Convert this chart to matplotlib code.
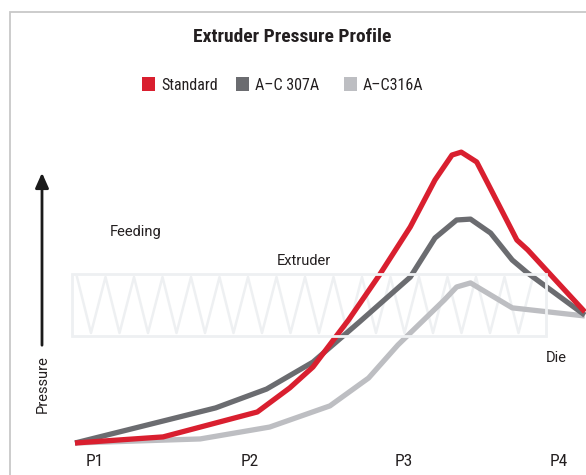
import matplotlib.pyplot as plt
from matplotlib.patches import Rectangle, FancyArrowPatch

# screw position (P1 = 0 ... P4 = 3) and relative pressure (peak ~100)
x_standard = [0, 0.57, 1.18, 1.39, 1.54, 1.77, 1.97, 2.17, 2.33, 2.44, 2.50, 2.60, 2.67, 2.86, 2.93, 3.30]
y_standard = [0, 2.1, 10.7, 19.0, 26.2, 42.4, 57.9, 74.5, 90.7, 99.3, 100.3, 96.9, 89.7, 70.0, 66.6, 45.2]

x_307 = [0, 0.91, 1.24, 1.54, 1.84, 2.17, 2.33, 2.47, 2.56, 2.69, 2.83, 2.93, 3.30]
y_307 = [0, 12.1, 18.6, 27.9, 41.7, 57.2, 70.7, 76.9, 77.2, 72.4, 63.1, 58.6, 44.1]

x_316 = [0, 0.81, 1.26, 1.65, 1.90, 2.09, 2.39, 2.47, 2.56, 2.83, 3.30]
y_316 = [0, 1.4, 5.5, 12.8, 22.4, 33.8, 49.3, 53.8, 55.2, 46.6, 43.8]

series_names = ["Standard", "A–C 307A", "A–C316A"]
series_colors = ["#d91f2f", "#6b6c70", "#bdbec2"]
tick_labels = ["P1", "P2", "P3", "P4"]
zone_labels = ["Feeding", "Extruder", "Die"]

W, H = 586, 475
narrow = ["Roboto Condensed", "DejaVu Sans"]
regular = ["Roboto", "DejaVu Sans"]

fig = plt.figure(figsize=(W / 100, H / 100), dpi=100)
ax = fig.add_axes([0, 0, 1, 1])
ax.axis("off")
# pixel layout: P1 at x=75, one P step = 154.5 px, baseline at y=443, 2.9 px per unit
ax.set_xlim(-75 / 154.5, (W - 75) / 154.5)
ax.set_ylim((443 - H) / 2.9, 443 / 2.9)


def fx(px):
    return px / W


def fy(py):
    return 1 - py / H


# outer frame
fig.patches.append(Rectangle((fx(10), -0.1), 1.2, fy(12) + 0.1, transform=fig.transFigure,
                             fill=False, edgecolor="#c8c8c8", linewidth=1.3))

# extruder screw (zig-zag box)
fig.patches.append(Rectangle((fx(72), fy(336)), fx(546) - fx(72), fy(274) - fy(336),
                             transform=fig.transFigure, fill=False, edgecolor="#eef0f2", linewidth=2))
zx, zy = [], []
for k in range(17):
    zx.append(fx(77 + 28.5 * k))
    zy.append(fy(277))
    if k < 16:
        zx.append(fx(91 + 28.5 * k))
        zy.append(fy(333))
fig.add_artist(plt.Line2D(zx, zy, transform=fig.transFigure, color="#eef0f2", linewidth=1.8, zorder=0))

# curves
xs = [x_standard, x_307, x_316]
ys = [y_standard, y_307, y_316]
for i in [2, 1, 0]:
    ax.plot(xs[i], ys[i], color=series_colors[i], linewidth=3.8,
            solid_joinstyle="round", solid_capstyle="butt", clip_on=False, zorder=3 + (2 - i))

# title
fig.text(fx(292), fy(37), "Extruder Pressure Profile", ha="center", va="center",
         fontsize=14, fontweight="bold", family=narrow, fontstretch="condensed", color="#231f20")

# legend
leg_x = [142, 236, 344]
for i, name in enumerate(series_names):
    fig.patches.append(Rectangle((fx(leg_x[i]), fy(91)), fx(13), 14 / H,
                                 transform=fig.transFigure, color=series_colors[i], linewidth=0))
    fig.text(fx(leg_x[i] + 19), fy(85), name, ha="left", va="center", fontsize=11.5,
             family=narrow, fontstretch="condensed", color="#231f20")

# pressure arrow
fig.add_artist(FancyArrowPatch((fx(42), fy(348)), (fx(42), fy(170)), transform=fig.transFigure,
                               arrowstyle="-|>,head_length=4.5,head_width=2", color="#1a1a1a",
                               linewidth=2, mutation_scale=2))
fig.text(fx(43), fy(384), "Pressure", rotation=90, ha="center", va="center",
         fontsize=10.5, family=regular, color="#231f20")

# zone labels
zone_pos = [(110, 232), (277, 261), (546, 358)]
for label, (px, py) in zip(zone_labels, zone_pos):
    fig.text(fx(px), fy(py), label, ha="left", va="center", fontsize=10.5,
             family=regular, color="#231f20")

# P ticks
for i, label in enumerate(tick_labels):
    ax.text(i + 11 / 154.5, (443 - 462) / 2.9, label, ha="left", va="center",
            fontsize=12.5, family=narrow, fontstretch="condensed", color="#231f20")

fig.savefig("out.png", dpi=100)
